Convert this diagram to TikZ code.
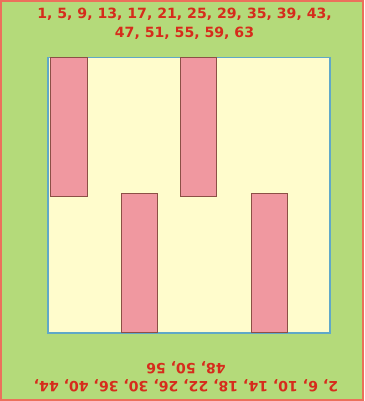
\documentclass[tikz,border=0pt]{standalone}
\usepackage{fontspec}
\setmainfont{DejaVu Sans}
\definecolor{bggreen}{RGB}{180,218,122}
\definecolor{outerred}{RGB}{236,112,92}
\definecolor{fieldyellow}{RGB}{255,252,204}
\definecolor{fieldblue}{RGB}{96,168,200}
\definecolor{barpink}{RGB}{240,152,160}
\definecolor{barborder}{RGB}{140,80,70}
\definecolor{textred}{RGB}{214,44,28}
\tikzset{
  bar/.style={fill=barpink, draw=barborder, line width=0.9pt},
  numtext/.style={text=textred, font=\fontsize{14.1}{18.5}\selectfont\bfseries, align=center, inner sep=0pt}
}
\begin{document}
\begin{tikzpicture}[x=1pt,y=-1pt]
\useasboundingbox (0,0) rectangle (364,401);
\draw[fill=bggreen, draw=outerred, line width=2pt] (1,1) rectangle (363,400);
\draw[fill=fieldyellow, draw=fieldblue, line width=1.2pt] (48,57.5) rectangle (330,333);
\draw[bar] (50.5,57.5) rectangle (87,196);
\draw[bar] (180.5,57.5) rectangle (216.5,196);
\draw[bar] (121,193.5) rectangle (157,332.5);
\draw[bar] (251,193.5) rectangle (287.5,332.5);
\node[numtext] (top) at (184.5,24) {1, 5, 9, 13, 17, 21, 25, 29, 35, 39, 43,\\47, 51, 55, 59, 63};
\node[numtext, rotate=180] (bottom) at (186,376.5) {2, 6, 10, 14, 18, 22, 26, 30, 36, 40, 44,\\48, 50, 56};
\end{tikzpicture}
\end{document}
